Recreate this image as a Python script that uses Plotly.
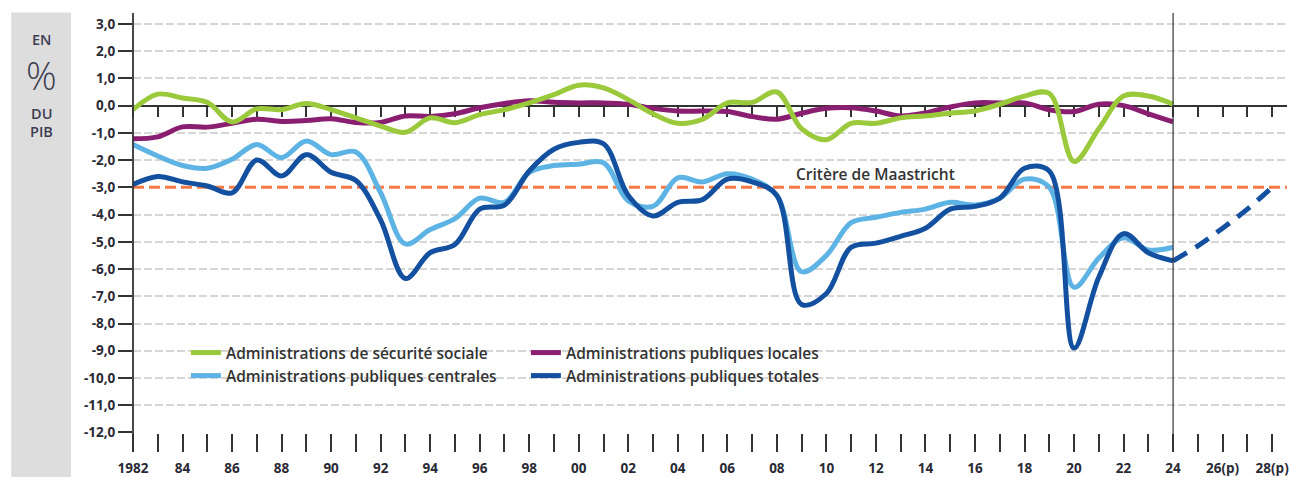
"""
Soldes des administrations publiques, en % du PIB (1982-2024, projection 2028).

Builds the line chart with Plotly and writes it to out.html.
"""

import plotly.graph_objects as go

# ---------------------------------------------------------------------------
# Data (en % du PIB)
# ---------------------------------------------------------------------------
YEARS = list(range(1982, 2025))

SECU_SOCIALE = [
    -0.15, 0.42, 0.28, 0.12, -0.60, -0.12, -0.15, 0.08, -0.15, -0.45,
    -0.75, -0.98, -0.45, -0.63, -0.33, -0.15, 0.10, 0.40, 0.75, 0.65,
    0.22, -0.30, -0.65, -0.50, 0.10, 0.12, 0.50, -0.85, -1.25, -0.65,
    -0.65, -0.45, -0.38, -0.28, -0.20, 0.05, 0.35, 0.45, -2.05, -0.85,
    0.35, 0.35, 0.05,
]
APU_LOCALES = [
    -1.22, -1.15, -0.78, -0.79, -0.65, -0.50, -0.58, -0.55, -0.48, -0.62,
    -0.62, -0.38, -0.40, -0.30, -0.08, 0.08, 0.18, 0.12, 0.10, 0.10,
    0.05, -0.10, -0.20, -0.20, -0.22, -0.40, -0.50, -0.28, -0.10, -0.08,
    -0.20, -0.38, -0.27, -0.05, 0.10, 0.10, 0.10, -0.15, -0.22, 0.05,
    0.00, -0.30, -0.60,
]
APU_CENTRALES = [
    -1.43, -1.85, -2.20, -2.30, -1.97, -1.43, -1.91, -1.30, -1.80, -1.70,
    -3.20, -5.08, -4.55, -4.15, -3.40, -3.55, -2.45, -2.20, -2.15, -2.10,
    -3.50, -3.70, -2.65, -2.80, -2.50, -2.70, -3.30, -6.10, -5.50, -4.30,
    -4.10, -3.92, -3.80, -3.55, -3.65, -3.40, -2.70, -3.00, -6.67, -5.60,
    -4.85, -5.30, -5.20,
]
APU_TOTALES = [
    -2.90, -2.60, -2.80, -2.95, -3.20, -2.00, -2.58, -1.80, -2.45, -2.75,
    -4.20, -6.35, -5.40, -5.10, -3.80, -3.65, -2.40, -1.60, -1.35, -1.40,
    -3.30, -4.05, -3.55, -3.45, -2.70, -2.80, -3.30, -7.30, -6.90, -5.20,
    -5.05, -4.80, -4.50, -3.80, -3.70, -3.40, -2.30, -2.40, -8.90, -6.30,
    -4.70, -5.40, -5.70,
]

# Projection of the total balance
PROJ_YEARS = [2024, 2025, 2026, 2027, 2028]
PROJ_TOTALES = [-5.70, -5.15, -4.50, -3.80, -3.00]

MAASTRICHT = -3.0

Y_TICKS = list(range(3, -13, -1))
Y_LABELS = [f"{v},0" for v in Y_TICKS]
# grey grid lines: every tick except the zero line and the Maastricht line
GRID_TICKS = [v for v in Y_TICKS if v not in (0, MAASTRICHT)]

X_TICKS = list(range(1982, 2029))
X_LABELS = []
for yr in X_TICKS:
    if yr == 1982:
        X_LABELS.append("1982")
    elif yr % 2:
        X_LABELS.append("")
    elif yr > 2024:
        X_LABELS.append(f"{yr % 100:02d}(p)")
    else:
        X_LABELS.append(f"{yr % 100:02d}")

# ---------------------------------------------------------------------------
# Geometry / styles
# ---------------------------------------------------------------------------
_WIDTH, _HEIGHT = 1289, 477
_PLOT_LEFT, _PLOT_RIGHT = 133, 1289
_PLOT_TOP, _PLOT_BOTTOM = 13, 433
_X_RANGE = [1982, 2028.6]
_Y_RANGE = [-12.02, 3.4]

_FONT = "Open Sans"
_TEXT = "#2a2a35"
_AXIS = "#333333"

_GREEN = "#9bc93c"
_PURPLE = "#8a1f72"
_LIGHT_BLUE = "#5db3e4"
_DARK_BLUE = "#1350a0"
_ORANGE = "#f47a45"


def px_x(px: float) -> float:
    """Pixel column -> paper x."""
    return (px - _PLOT_LEFT) / (_PLOT_RIGHT - _PLOT_LEFT)


def px_y(py: float) -> float:
    """Pixel row -> paper y."""
    return (_PLOT_BOTTOM - py) / (_PLOT_BOTTOM - _PLOT_TOP)


def line_trace(y, name, color, legend, rank):
    return go.Scatter(
        x=YEARS, y=y, name=name, mode="lines",
        line=dict(color=color, width=5, shape="spline", smoothing=1.0),
        legend=legend, legendrank=rank, hoverinfo="skip",
    )


# ---------------------------------------------------------------------------
# Figure
# ---------------------------------------------------------------------------
fig = go.Figure()

fig.add_trace(line_trace(APU_CENTRALES, "Administrations publiques centrales",
                         _LIGHT_BLUE, "legend2", 1))
fig.add_trace(line_trace(APU_TOTALES, "Administrations publiques totales",
                         _DARK_BLUE, "legend2", 2))
fig.add_trace(line_trace(APU_LOCALES, "Administrations publiques locales",
                         _PURPLE, "legend", 2))
fig.add_trace(line_trace(SECU_SOCIALE, "Administrations de sécurité sociale",
                         _GREEN, "legend", 1))

# projection (dashed)
fig.add_trace(go.Scatter(
    x=PROJ_YEARS, y=PROJ_TOTALES, mode="lines", showlegend=False,
    line=dict(color=_DARK_BLUE, width=5, dash="16px,10px",
              shape="spline", smoothing=1.0),
    hoverinfo="skip",
))

# empty traces so the helper axes (zero-line ticks, grid) get drawn
fig.add_trace(go.Scatter(x=[], y=[], xaxis="x2", showlegend=False,
                         hoverinfo="skip"))
fig.add_trace(go.Scatter(x=[], y=[], yaxis="y2", showlegend=False,
                         hoverinfo="skip"))

zero_pos = (0 - _Y_RANGE[0]) / (_Y_RANGE[1] - _Y_RANGE[0])
y_tick_font = dict(family=_FONT, size=13.5, color=_TEXT, weight=700)
x_tick_font = dict(family=_FONT, size=13.5, color=_TEXT, weight=700)
legend_common = dict(
    orientation="h", xanchor="left", yanchor="top",
    bgcolor="rgba(0,0,0,0)", borderwidth=0, itemwidth=30,
    entrywidth=295, entrywidthmode="pixels",
    font=dict(family=_FONT, size=15.5, color="#333333", weight=600),
    traceorder="normal",
)

fig.update_layout(
    width=_WIDTH, height=_HEIGHT,
    margin=dict(l=_PLOT_LEFT, r=_WIDTH - _PLOT_RIGHT,
                t=_PLOT_TOP, b=_HEIGHT - _PLOT_BOTTOM, pad=0),
    paper_bgcolor="white", plot_bgcolor="white",
    showlegend=True,
    legend=dict(x=px_x(186), y=px_y(336), **legend_common),
    legend2=dict(x=px_x(186), y=px_y(359), **legend_common),
    xaxis=dict(
        range=_X_RANGE, showgrid=False, zeroline=False, showline=False,
        tickmode="array", tickvals=X_TICKS, ticktext=X_LABELS,
        ticks="outside", ticklen=18, tickwidth=1.5, tickcolor=_AXIS,
        tickfont=x_tick_font, ticklabelstandoff=5, ticklabeloverflow="allow",
    ),
    xaxis2=dict(
        range=_X_RANGE, overlaying="x", anchor="free", position=zero_pos,
        side="bottom", showgrid=False, zeroline=False, showline=False,
        tickmode="array", tickvals=X_TICKS, showticklabels=False,
        ticks="outside", ticklen=10, tickwidth=1.5, tickcolor=_AXIS,
        layer="below traces",
    ),
    yaxis=dict(
        range=_Y_RANGE, showline=False, showgrid=False,
        tickmode="array", tickvals=Y_TICKS, ticktext=Y_LABELS,
        ticks="outside", ticklen=14, tickwidth=1.5, tickcolor=_AXIS,
        tickfont=y_tick_font,
        zeroline=True, zerolinecolor=_AXIS, zerolinewidth=2,
    ),
    yaxis2=dict(
        range=_Y_RANGE, overlaying="y", side="left",
        tickmode="array", tickvals=GRID_TICKS, showticklabels=False,
        ticks="", showline=False, zeroline=False,
        showgrid=True, gridcolor="#d6d6d6", gridwidth=1.5, griddash="8px,3px",
    ),
    hovermode=False,
)

# left grey panel
fig.add_shape(type="rect", xref="paper", yref="paper",
              x0=px_x(11), x1=px_x(71), y0=px_y(_HEIGHT), y1=px_y(12.5),
              fillcolor="#dddddd", line_width=0, layer="below")

panel_color = "#3d3d52"
for txt, py, size, weight in [("EN", 39, 14.5, 600), ("%", 75, 38, 300),
                              ("DU", 113, 14.5, 600), ("PIB", 131, 14.5, 600)]:
    fig.add_annotation(
        text=txt, xref="paper", yref="paper", x=px_x(41), y=px_y(py),
        xanchor="center", yanchor="middle", showarrow=False,
        font=dict(family=_FONT, size=size, color=panel_color, weight=weight),
    )

# white block behind the legend (hides the grid lines there)
fig.add_shape(type="rect", xref="paper", yref="paper",
              x0=px_x(186), x1=px_x(842), y0=px_y(388), y1=px_y(340),
              fillcolor="white", line_width=0, layer="between")

# y axis line, extended under the plot down to the x ticks
fig.add_shape(type="line", xref="paper", yref="paper",
              x0=0, x1=0, y0=px_y(451), y1=1,
              line=dict(color=_AXIS, width=1.8))

# separation between observed data and projection
fig.add_shape(type="line", xref="x", yref="paper",
              x0=YEARS[-1], x1=YEARS[-1], y0=px_y(451), y1=1,
              line=dict(color=_AXIS, width=1.2))

# Maastricht criterion
fig.add_shape(type="line", xref="paper", yref="y",
              x0=0, x1=1, y0=MAASTRICHT, y1=MAASTRICHT,
              line=dict(color=_ORANGE, width=3, dash="11px,5px"),
              layer="between")
fig.add_annotation(
    text="Critère de Maastricht", x=2012, y=MAASTRICHT, yshift=13,
    xanchor="center", yanchor="middle", showarrow=False,
    font=dict(family=_FONT, size=15.5, color="#333333", weight=600),
)

# the page is photographed from its top-left corner: drop the body margin
fig.write_html(
    "out.html",
    config={"displayModeBar": False},
    post_script="document.body.style.margin = '0px';",
)
